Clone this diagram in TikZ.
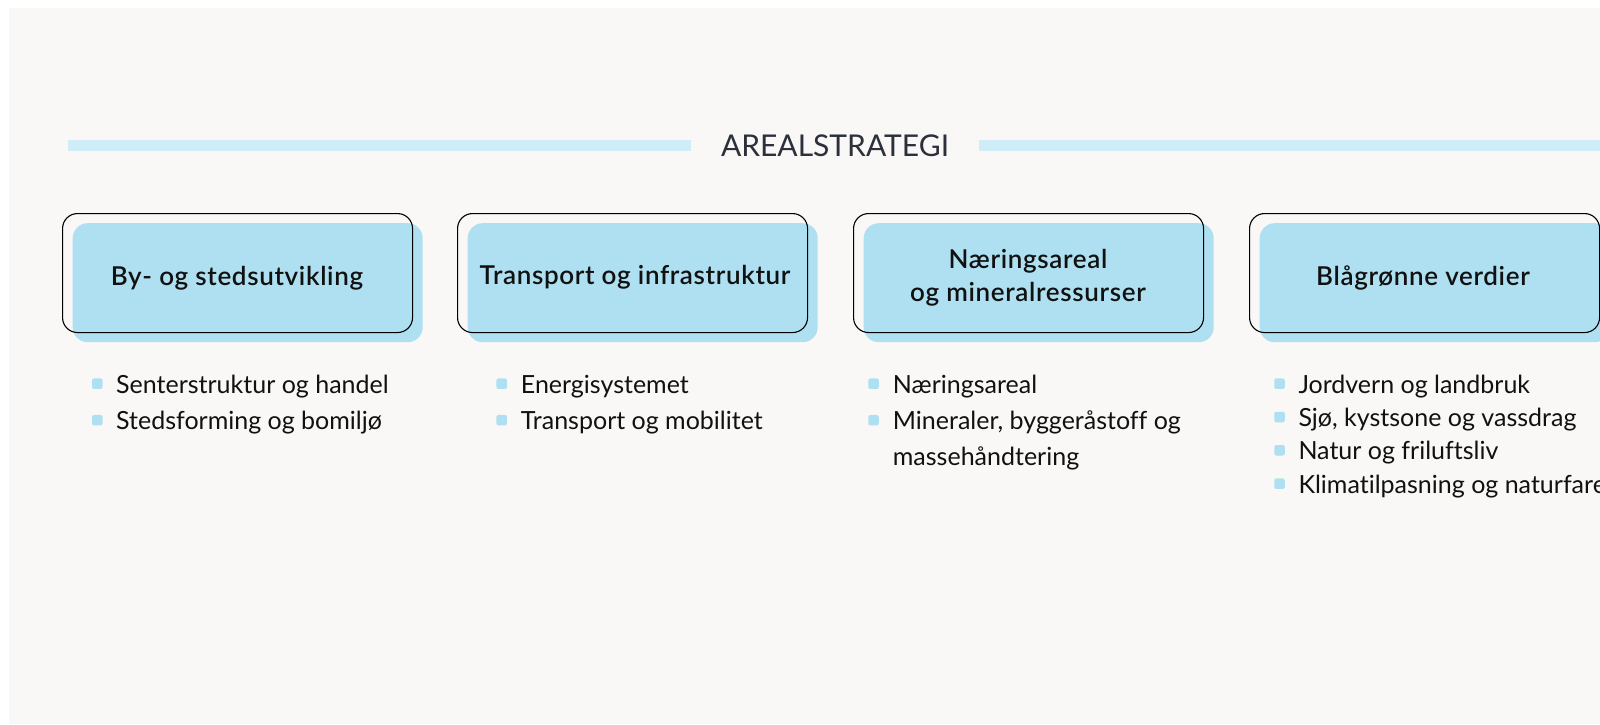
\documentclass[tikz,border=0pt]{standalone}
\usepackage{fontspec}
\setmainfont{Lato}[Ligatures=NoCommon]
\newfontfamily\headfont{Lato Semibold}[LetterSpace=2.5,Ligatures=NoCommon]
\definecolor{bgcol}{HTML}{F9F8F6}
\definecolor{linecol}{HTML}{CFEDF7}
\definecolor{boxblue}{HTML}{AEE0F1}
\definecolor{titlecol}{HTML}{2B303B}
\definecolor{txtcol}{HTML}{111111}
\tikzset{
  shadowbox/.style={fill=boxblue, rounded corners=15pt, minimum width=350pt, minimum height=119pt, inner sep=0pt, anchor=north west},
  outlinebox/.style={draw=black, line width=1.1pt, rounded corners=15pt, minimum width=350pt, minimum height=119pt, inner sep=0pt, anchor=north west},
  headtxt/.style={font=\fontsize{26}{30}\headfont, text=txtcol, inner sep=0pt, anchor=base},
  itemtxt/.style={font=\fontsize{25}{30}\selectfont, text=txtcol, inner sep=0pt, anchor=base west},
  bul/.style={fill=boxblue, rounded corners=2pt, minimum size=10.5pt, inner sep=0pt},
  titletxt/.style={font=\fontsize{30}{36}\selectfont, text=titlecol, inner sep=0pt, anchor=base}
}
\begin{document}
\begin{tikzpicture}[x=1pt,y=-1pt]
\useasboundingbox (0,0) rectangle (1600,724);
\fill[bgcol] (9,8) rectangle (1600,724);
% header
\fill[linecol] (68,140) rectangle (691,151);
\fill[linecol] (979,140) rectangle (1600,151);
\node[titletxt] (title) at (835,156.7) {AREALSTRATEGI};
% shadows
\node[shadowbox] (s1) at (72.5,223) {};
\node[shadowbox] (s2) at (467.5,223) {};
\node[shadowbox] (s3) at (863.5,223) {};
\node[shadowbox] (s4) at (1259.5,223) {};
% outlines
\node[outlinebox] (o1) at (62,213) {};
\node[outlinebox] (o2) at (457,213) {};
\node[outlinebox] (o3) at (853,213) {};
\node[outlinebox] (o4) at (1249,213) {};
% headings
\node[headtxt] (h1) at (237,285) {By- og stedsutvikling};
\node[headtxt] (h2) at (635,284) {Transport og infrastruktur};
\node[headtxt] (h3a) at (1028,268.3) {Næringsareal};
\node[headtxt] (h3b) at (1028,301.7) {og mineralressurser};
\node[headtxt] (h4) at (1423,285) {Blågrønne verdier};
% list 1
\node[bul] (b11) at (97.3,383.7) {};
\node[itemtxt] (t11) at (116,393) {Senterstruktur og handel};
\node[bul] (b12) at (97.3,420.2) {};
\node[itemtxt] (t12) at (116,429.5) {Stedsforming og bomiljø};
% list 2
\node[bul] (b21) at (501.7,383.7) {};
\node[itemtxt] (t21) at (520.7,393) {Energisystemet};
\node[bul] (b22) at (501.7,420.2) {};
\node[itemtxt] (t22) at (520.7,429.5) {Transport og mobilitet};
% list 3
\node[bul] (b31) at (873.5,383.7) {};
\node[itemtxt] (t31) at (892.7,393) {Næringsareal};
\node[bul] (b32) at (873.5,420.2) {};
\node[itemtxt] (t32a) at (892.7,429.5) {Mineraler, byggeråstoff og};
\node[itemtxt] (t32b) at (892.7,465.5) {massehåndtering};
% list 4
\node[bul] (b41) at (1279.5,383.7) {};
\node[itemtxt] (t41) at (1298.3,393) {Jordvern og landbruk};
\node[bul] (b42) at (1279.5,417) {};
\node[itemtxt] (t42) at (1298.3,426.3) {Sjø, kystsone og vassdrag};
\node[bul] (b43) at (1279.5,450.3) {};
\node[itemtxt] (t43) at (1298.3,459.6) {Natur og friluftsliv};
\node[bul] (b44) at (1279.5,483.7) {};
\node[itemtxt] (t44) at (1298.3,493) {Klimatilpasning og naturfare};
\end{tikzpicture}
\end{document}
